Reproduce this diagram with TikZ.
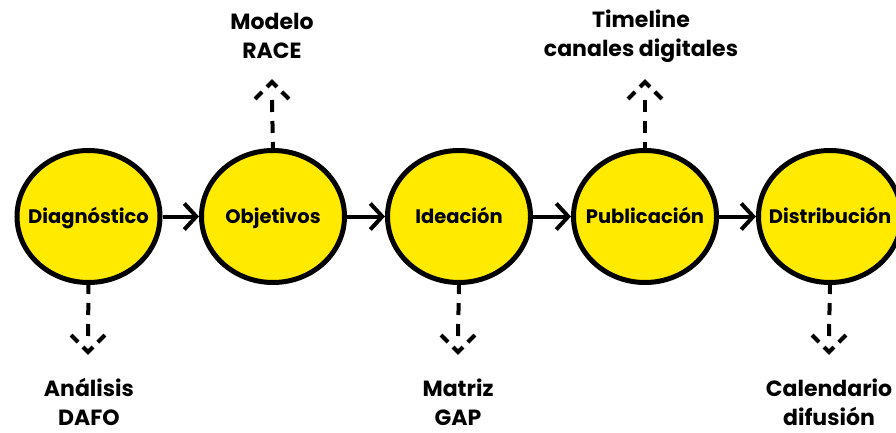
\documentclass[tikz,border=0pt]{standalone}
\usepackage{fontspec}
\setmainfont{Poppins}
\usetikzlibrary{shapes.geometric,arrows.meta}
\definecolor{stepyellow}{RGB}{255,234,0}
\newcommand{\stagetext}[1]{\makebox[0pt][c]{#1\vphantom{Áj}}}
\tikzset{
  stage/.style={ellipse, draw=black, line width=5pt, fill=stepyellow,
    minimum width=143pt, minimum height=132pt, inner sep=0pt,
    font=\fontsize{19.5}{22}\selectfont\bfseries},
  flow/.style={line width=4pt, -{Straight Barb[length=12pt,width=26pt,line width=4pt]}},
  dashshaft/.style={line width=4pt, dash pattern=on 12pt off 9pt},
  dashhead/.style={line width=4pt, miter limit=10, dash pattern=on 10pt off 7pt on 14pt off 7pt on 10pt},
  lab/.style={align=center, font=\fontsize{22}{29}\selectfont\bfseries, inner sep=0pt}
}
\begin{document}
\begin{tikzpicture}[x=1pt,y=-1pt]
\useasboundingbox (0,0) rectangle (896,433);
% stages
\node[stage] (c1) at (88.5,216.5) {\stagetext{Diagnóstico}};
\node[stage] (c2) at (273,216.5) {\stagetext{Objetivos}};
\node[stage] (c3) at (459,216.5) {\stagetext{Ideación}};
\node[stage] (c4) at (645,216.5) {\stagetext{Publicación}};
\node[stage] (c5) at (830,216.5) {\stagetext{Distribución}};
% flow arrows
\draw[flow] (c1) -- (c2);
\draw[flow] (c2) -- (c3);
\draw[flow] (c3) -- (c4);
\draw[flow] (c4) -- (c5);
% labels
\node[lab] (l2) at (272,36) {Modelo\\RACE};
\node[lab] (l4) at (641,36) {Timeline\\canales digitales};
\node[lab] (l1) at (89,402) {Análisis\\DAFO};
\node[lab] (l3) at (458,402) {Matriz\\GAP};
\node[lab] (l5) at (829,402) {Calendario\\difusión};
% tips of dashed arrows
\coordinate (t2) at (272,82);
\coordinate (t4) at (645,82);
\coordinate (t1) at (88,352);
\coordinate (t3) at (458,352);
\coordinate (t5) at (829,352);
% upward dashed arrows
\foreach \c/\t in {c2/t2, c4/t4}{
  \draw[dashshaft] ([yshift=-18pt]\t) -- (\c.north);
  \draw[dashhead] ([xshift=-17pt,yshift=-17pt]\t) -- (\t) -- ([xshift=17pt,yshift=-17pt]\t);
}
% downward dashed arrows
\foreach \c/\t in {c1/t1, c3/t3, c5/t5}{
  \draw[dashshaft] ([yshift=16pt]\t) -- (\c.south);
  \draw[dashhead] ([xshift=-17pt,yshift=17pt]\t) -- (\t) -- ([xshift=17pt,yshift=17pt]\t);
}
\end{tikzpicture}
\end{document}
